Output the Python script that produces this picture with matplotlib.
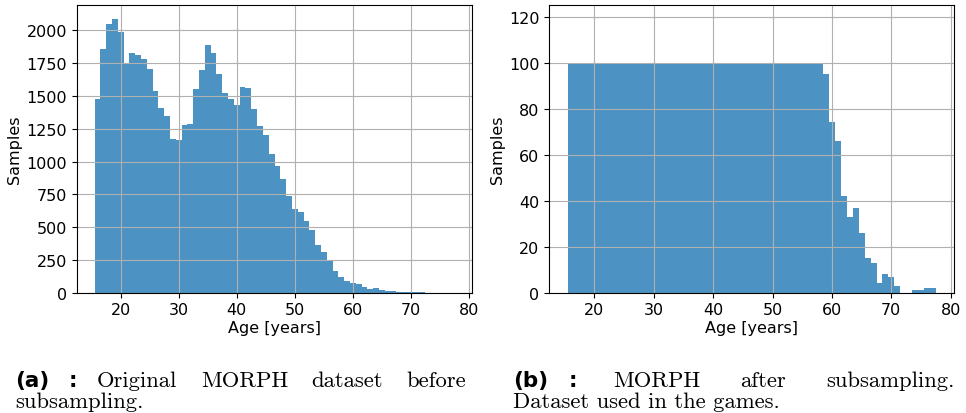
import numpy as np
import matplotlib.pyplot as plt

# ages (1 year bins)
ages = np.arange(16, 78)

# MORPH original counts per age
orig_counts = [1479, 1860, 2051, 2090, 1985, 1752, 1829, 1814, 1783, 1707,
               1538, 1408, 1347, 1170, 1163, 1277, 1285, 1553, 1699, 1891,
               1829, 1668, 1523, 1477, 1431, 1569, 1561, 1400, 1270, 1201,
               1055, 963, 870, 736, 641, 618, 549, 480, 366, 312,
               238, 166, 120, 90, 77, 69, 46, 28, 36, 20,
               13, 13, 5, 5, 5, 2, 2, 1, 1, 1,
               1, 1]

# after subsampling (max 100 per age)
sub_counts = [100] * 43 + [95, 74, 66, 42, 33, 37, 26, 15, 13, 4,
                           8, 7, 3, 0, 0, 1, 1, 2, 2]

left_yticks = np.arange(0, 2001, 250)
right_yticks = np.arange(0, 121, 20)
xticks = [20, 30, 40, 50, 60, 70, 80]

W, H = 966, 414
fig = plt.figure(figsize=(W / 100, H / 100), dpi=100)

edges = np.arange(15.5, 78.0, 1.0)

ax1 = fig.add_axes([76.7 / W, 1 - 293.7 / H, 395.6 / W, 287.7 / H])
ax1.hist(ages, bins=edges, weights=orig_counts, color='tab:blue', alpha=0.8)
ax1.set_yticks(left_yticks)

ax2 = fig.add_axes([549.3 / W, 1 - 293.7 / H, 405 / W, 287.7 / H])
ax2.hist(ages, bins=edges, weights=sub_counts, color='tab:blue', alpha=0.8)
ax2.set_ylim(0, 125)
ax2.set_yticks(right_yticks)

for ax in (ax1, ax2):
    ax.grid(True)
    ax.set_xticks(xticks)
    ax.tick_params(labelsize=11.5)
    ax.set_xlabel('Age [years]', fontsize=11.5, labelpad=2)
    ax.set_ylabel('Samples', fontsize=11.5, labelpad=3)

bold = dict(family='DejaVu Sans', fontweight='bold', fontsize=15.5)
serif = dict(family='cmr10', fontsize=16.3)

renderer = fig.canvas.get_renderer()


def put(x, y, s, **kw):
    fig.text(x / W, 1 - y / H, s, va='baseline', **kw)


def line(words, x0, x1, y, justify=True):
    # spread the words between x0 and x1 (pixels)
    texts = [fig.text(0, 1 - y / H, s, va='baseline', **serif) for s in words]
    widths = [t.get_window_extent(renderer).width for t in texts]
    if justify and len(texts) > 1:
        gap = (x1 - x0 - sum(widths)) / (len(texts) - 1)
    else:
        gap = 6
    x = x0
    for t, w in zip(texts, widths):
        t.set_x(x / W)
        x += w + gap


b1, b2 = 387, 408

put(15, b1, '(a)', **bold)
put(69, b1, ':', **bold)
line(['Original', 'MORPH', 'dataset', 'before'], 97, 466, b1)
line(['subsampling.'], 15, 466, b2, justify=False)

put(513, b1, '(b)', **bold)
put(569, b1, ':', **bold)
line(['MORPH', 'after', 'subsampling.'], 613, 955, b1)
line(['Dataset used in the games.'], 513, 955, b2, justify=False)

fig.savefig('out.png', dpi=100)
